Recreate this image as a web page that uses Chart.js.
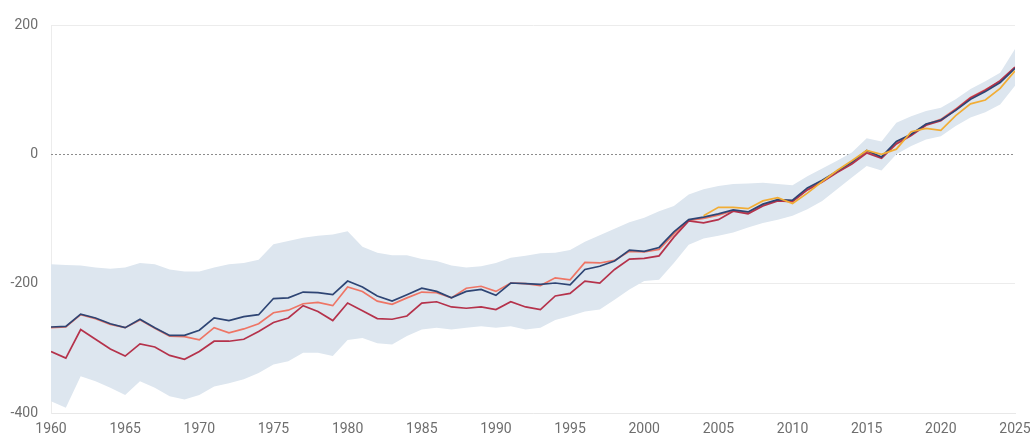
<!DOCTYPE html>
<html>
<head>
<meta charset="utf-8">
<script src="https://cdn.jsdelivr.net/npm/chart.js@4"></script>
<style>
  body { margin: 0; background: #fff; }
  #wrap { width: 1030px; height: 437px; }
</style>
</head>
<body>
<div id="wrap"><canvas id="chart" width="1030" height="437"></canvas></div>
<script>
// years 1960..2025
const years = []
for (let y = 1960; y <= 2025; y++) years.push(y)

// upper series (navy)
const navy = [
  -267, -266, -247, -253, -262, -268, -255, -268, -280, -280,
  -272, -253, -257, -251, -248, -223, -222, -213, -214, -217,
  -196, -205, -219, -227, -217, -207, -212, -222, -212, -209,
  -218, -199, -200, -201, -199, -202, -178, -173, -165, -148,
  -150, -144, -120, -101, -97, -92, -86, -89, -77, -70,
  -71, -52, -40, -26, -12, 6, -4, 20, 31, 47,
  53, 68, 85, 97, 111, 133,
]

// middle series (salmon)
const salmon = [
  -268, -267, -248, -254, -263, -268, -256, -269, -281, -282,
  -287, -268, -276, -270, -262, -245, -241, -231, -229, -234,
  -205, -212, -227, -232, -222, -213, -214, -222, -207, -204,
  -212, -199, -200, -203, -191, -194, -167, -168, -164, -150,
  -151, -147, -123, -102, -99, -94, -87, -90, -78, -71,
  -72, -54, -42, -27, -14, 4, -5, 18, 30, 46,
  54, 70, 88, 100, 113, 134,
]

// lower series (crimson)
const crimson = [
  -305, -315, -271, -286, -301, -312, -293, -298, -311, -317,
  -305, -289, -289, -286, -274, -260, -253, -234, -243, -257,
  -230, -242, -254, -255, -250, -230, -228, -236, -238, -236,
  -240, -228, -236, -240, -219, -215, -196, -199, -178, -162,
  -161, -157, -128, -103, -106, -101, -88, -92, -80, -72,
  -73, -55, -43, -28, -15, 2, -6, 16, 29, 45,
  52, 69, 87, 99, 114, 135,
]

// recent series (gold), starts 2004
const gold = [
  null, null, null, null, null, null, null, null, null, null,
  null, null, null, null, null, null, null, null, null, null,
  null, null, null, null, null, null, null, null, null, null,
  null, null, null, null, null, null, null, null, null, null,
  null, null, null, null, -95, -82, -82, -84, -72, -67,
  -76, -60, -42, -25, -10, 6, 0, 8, 35, 40,
  37, 60, 78, 84, 102, 129,
]

// uncertainty band
const bandUpper = [
  -170, -171, -172, -175, -177, -175, -168, -170, -178, -181,
  -181, -175, -170, -168, -163, -139, -134, -129, -126, -124,
  -119, -143, -152, -156, -156, -162, -165, -172, -175, -173,
  -168, -160, -157, -153, -152, -148, -135, -125, -115, -105,
  -98, -88, -80, -62, -54, -49, -46, -45, -44, -46,
  -48, -34, -22, -10, 3, 25, 20, 49, 59, 67,
  72, 85, 101, 113, 126, 163,
]
const bandLower = [
  -382, -392, -343, -351, -361, -372, -351, -361, -374, -379,
  -372, -359, -354, -348, -338, -325, -320, -307, -307, -312,
  -287, -284, -292, -294, -281, -271, -268, -271, -268, -266,
  -268, -266, -271, -268, -256, -250, -243, -240, -225, -209,
  -196, -194, -168, -140, -130, -126, -121, -113, -106, -101,
  -95, -85, -72, -54, -36, -18, -25, 0, 13, 23,
  28, 44, 57, 65, 77, 106,
]

const yTicks = [-400, -200, 0, 200]

const pts = (arr) => years.map((x, i) => ({ x, y: arr[i] }))

const line = (data, color, order) => ({
  data: pts(data),
  borderColor: color,
  borderWidth: 1.7,
  pointRadius: 0,
  tension: 0,
  fill: false,
  spanGaps: false,
  order,
})

// dotted zero line
const zeroLine = {
  id: 'zeroLine',
  beforeDatasetsDraw(chart) {
    const { ctx, chartArea, scales } = chart
    const y = Math.round(scales.y.getPixelForValue(0)) + 0.5
    ctx.save()
    ctx.strokeStyle = '#8c8c8c'
    ctx.lineWidth = 1
    ctx.setLineDash([2, 2])
    ctx.beginPath()
    ctx.moveTo(chartArea.left, y)
    ctx.lineTo(chartArea.right, y)
    ctx.stroke()
    ctx.restore()
  },
}

const tickFont = { family: "'Roboto', sans-serif", size: 14 }

new Chart(document.getElementById('chart'), {
  type: 'line',
  data: {
    datasets: [
      line(navy, '#2e4574', 2),
      line(crimson, '#b5324b', 3),
      line(salmon, '#ee7565', 4),
      line(gold, '#f2ad35', 1),
      {
        data: pts(bandUpper),
        borderWidth: 0,
        pointRadius: 0,
        backgroundColor: '#dde6ef',
        fill: '+1',
        order: 10,
      },
      {
        data: pts(bandLower),
        borderWidth: 0,
        pointRadius: 0,
        fill: false,
        order: 11,
      },
    ],
  },
  options: {
    responsive: false,
    animation: false,
    layout: { padding: { top: 25, right: 15, left: 0, bottom: 0 } },
    scales: {
      x: {
        type: 'linear',
        min: 1960,
        max: 2025,
        grid: { display: false },
        border: { display: true, color: '#e8e8e8' },
        ticks: {
          stepSize: 5,
          color: '#6e6e6e',
          font: tickFont,
          padding: 0,
          maxRotation: 0,
          callback: (v) => String(v),
        },
        afterFit: (s) => {
          s.paddingLeft = 0
          s.paddingRight = 0
          s.height = 24
        },
      },
      y: {
        min: -400,
        max: 200,
        afterBuildTicks: (s) => {
          s.ticks = yTicks.map((value) => ({ value }))
        },
        grid: {
          drawTicks: false,
          color: (c) => (c.tick && c.tick.value === 0 ? 'rgba(0,0,0,0)' : '#ececec'),
        },
        border: { display: true, color: '#ececec' },
        ticks: {
          color: '#6e6e6e',
          font: tickFont,
          padding: 13,
        },
        afterFit: (s) => {
          s.width = 51
        },
      },
    },
    plugins: {
      legend: { display: false },
      tooltip: { enabled: false },
    },
  },
  plugins: [zeroLine],
})
</script>
</body>
</html>
